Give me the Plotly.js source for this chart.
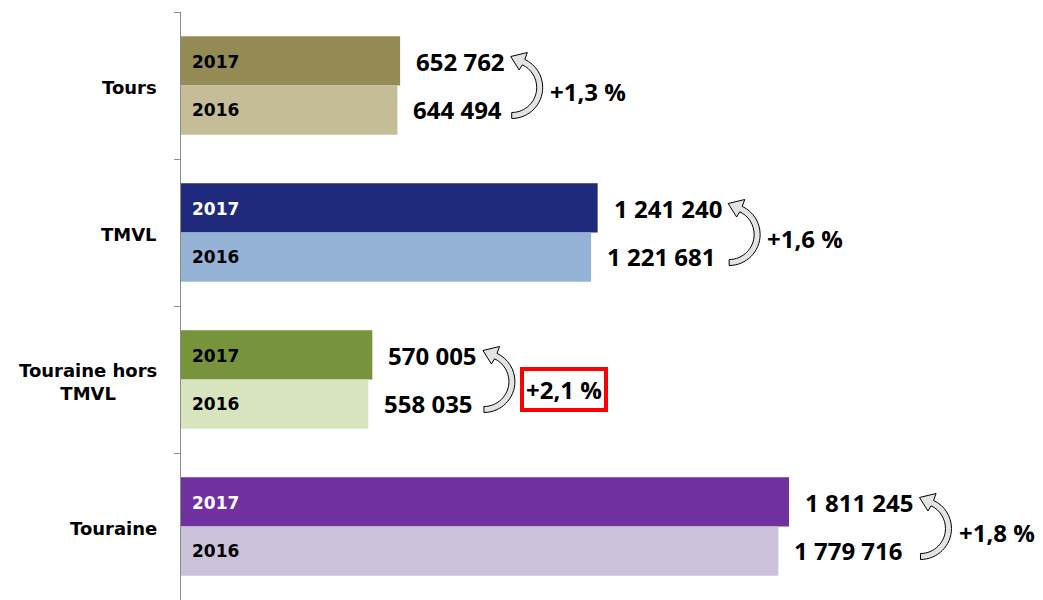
<!DOCTYPE html>
<html><head><meta charset="utf-8">
<script src="https://cdn.plot.ly/plotly-3.0.1.min.js"></script>
<style>html,body{margin:0;padding:0;background:#fff}#chart{width:1043px;height:600px}</style>
</head><body><div id="chart"></div>
<script>
const categories = ['Tours', 'TMVL', 'Touraine hors TMVL', 'Touraine'];
const categoryLabels = ['Tours', 'TMVL', 'Touraine hors<br>TMVL', 'Touraine'];
const years = ['2017', '2016'];
const values2017 = [652762, 1241240, 570005, 1811245];
const values2016 = [644494, 1221681, 558035, 1779716];
const colors2017 = ['#948A54', '#1F2A7C', '#77933C', '#7030A0'];
const colors2016 = ['#C4BD97', '#95B3D7', '#D7E4BD', '#CCC1DA'];
const yearTextColors2017 = ['#000000', '#ffffff', '#000000', '#ffffff'];
const yearTextColors2016 = ['#000000', '#000000', '#000000', '#000000'];
const highlighted = [false, false, true, false];

const fmt = n => String(n).replace(/\B(?=(\d{3})+(?!\d))/g, ' ');
const pct = (a, b) => '+' + ((a / b - 1) * 100).toFixed(1).replace('.', ',') + ' %';

const valueFont = {family: 'Open Sans', size: 24, color: '#000', weight: 700};
const yearFont = {family: 'DejaVu Sans', size: 17, weight: 700};
const catFont = {family: 'DejaVu Sans', size: 18, color: '#000', weight: 700};

const cv = document.createElement('canvas').getContext('2d');
cv.font = '700 24px "Open Sans"';
const textW = s => cv.measureText(s).width;

const BAR_OFF = 24;
const LABEL_GAP = 14;

function arrowPath(dx) {
  const P = (x, y) => (x + dx).toFixed(1) + ',' + (-y).toFixed(1);
  return 'M' + P(0, 33) +
    ' C' + P(17.1, 33) + ' ' + P(31, 19.1) + ' ' + P(31, 2) +
    ' C' + P(31, -10) + ' ' + P(24, -21) + ' ' + P(13.1, -26.1) +
    ' L' + P(15.6, -33) + ' L' + P(-1, -29) + ' L' + P(7.5, -15.5) + ' L' + P(10.6, -20.7) +
    ' C' + P(19.4, -16.6) + ' ' + P(25, -7.7) + ' ' + P(25, 2) +
    ' C' + P(25, 15.8) + ' ' + P(13.8, 27) + ' ' + P(0, 27) + ' Z';
}

const traces = [
  {type: 'bar', orientation: 'h', name: years[0], y: categories, x: values2017,
   marker: {color: colors2017}, hoverinfo: 'none'},
  {type: 'bar', orientation: 'h', name: years[1], y: categories, x: values2016,
   marker: {color: colors2016}, hoverinfo: 'none'}
];

const annotations = [];
const shapes = [];
categories.forEach((c, i) => {
  annotations.push({xref: 'paper', x: 0, xanchor: 'right', xshift: -22, yref: 'y', y: c, yshift: -2,
    text: '<b>' + categoryLabels[i] + '</b>', showarrow: false, align: 'center', font: catFont});
  [[values2017, yearTextColors2017, BAR_OFF, years[0]], [values2016, yearTextColors2016, -BAR_OFF, years[1]]]
    .forEach(([vals, tcols, ys, yr]) => {
      annotations.push({xref: 'x', x: 0, xanchor: 'left', xshift: 9, yref: 'y', y: c, yshift: ys,
        text: '<b>' + yr + '</b>', showarrow: false, font: Object.assign({}, yearFont, {color: tcols[i]})});
      annotations.push({xref: 'x', x: vals[i], xanchor: 'left', xshift: LABEL_GAP, yref: 'y', y: c, yshift: ys,
        text: '<b>' + fmt(vals[i]) + '</b>', showarrow: false, font: valueFont});
    });
  const tipDx = LABEL_GAP + textW(fmt(values2017[i])) + 9;
  shapes.push({type: 'path', xref: 'x', xsizemode: 'pixel', xanchor: values2017[i],
    yref: 'y', ysizemode: 'pixel', yanchor: c, path: arrowPath(tipDx),
    fillcolor: '#e3e3e3', line: {color: '#000', width: 1}});
  const p = {xref: 'x', x: values2017[i], xanchor: 'left', xshift: tipDx + 36, yref: 'y', y: c, yshift: -6,
    text: '<b>' + pct(values2017[i], values2016[i]) + '</b>', showarrow: false, font: valueFont};
  if (highlighted[i]) { p.bordercolor = '#FF0000'; p.borderwidth = 4; p.borderpad = 2; p.yshift = -10; }
  annotations.push(p);
});

const layout = {
  width: 1043, height: 600,
  margin: {l: 181, r: 0, t: 12, b: 0},
  paper_bgcolor: '#fff', plot_bgcolor: '#fff',
  barmode: 'group', bargap: 0.33, bargroupgap: 0,
  showlegend: false,
  xaxis: {range: [0, 2568000], visible: false, fixedrange: true},
  yaxis: {autorange: 'reversed', showline: true, linecolor: '#8C8C8C', linewidth: 1,
    ticks: 'outside', ticklen: 6, tickcolor: '#8C8C8C', tickson: 'boundaries',
    showticklabels: false, showgrid: false, zeroline: false, fixedrange: true},
  annotations: annotations,
  shapes: shapes
};

Plotly.newPlot('chart', traces, layout, {displayModeBar: false, staticPlot: true});
</script></body></html>
